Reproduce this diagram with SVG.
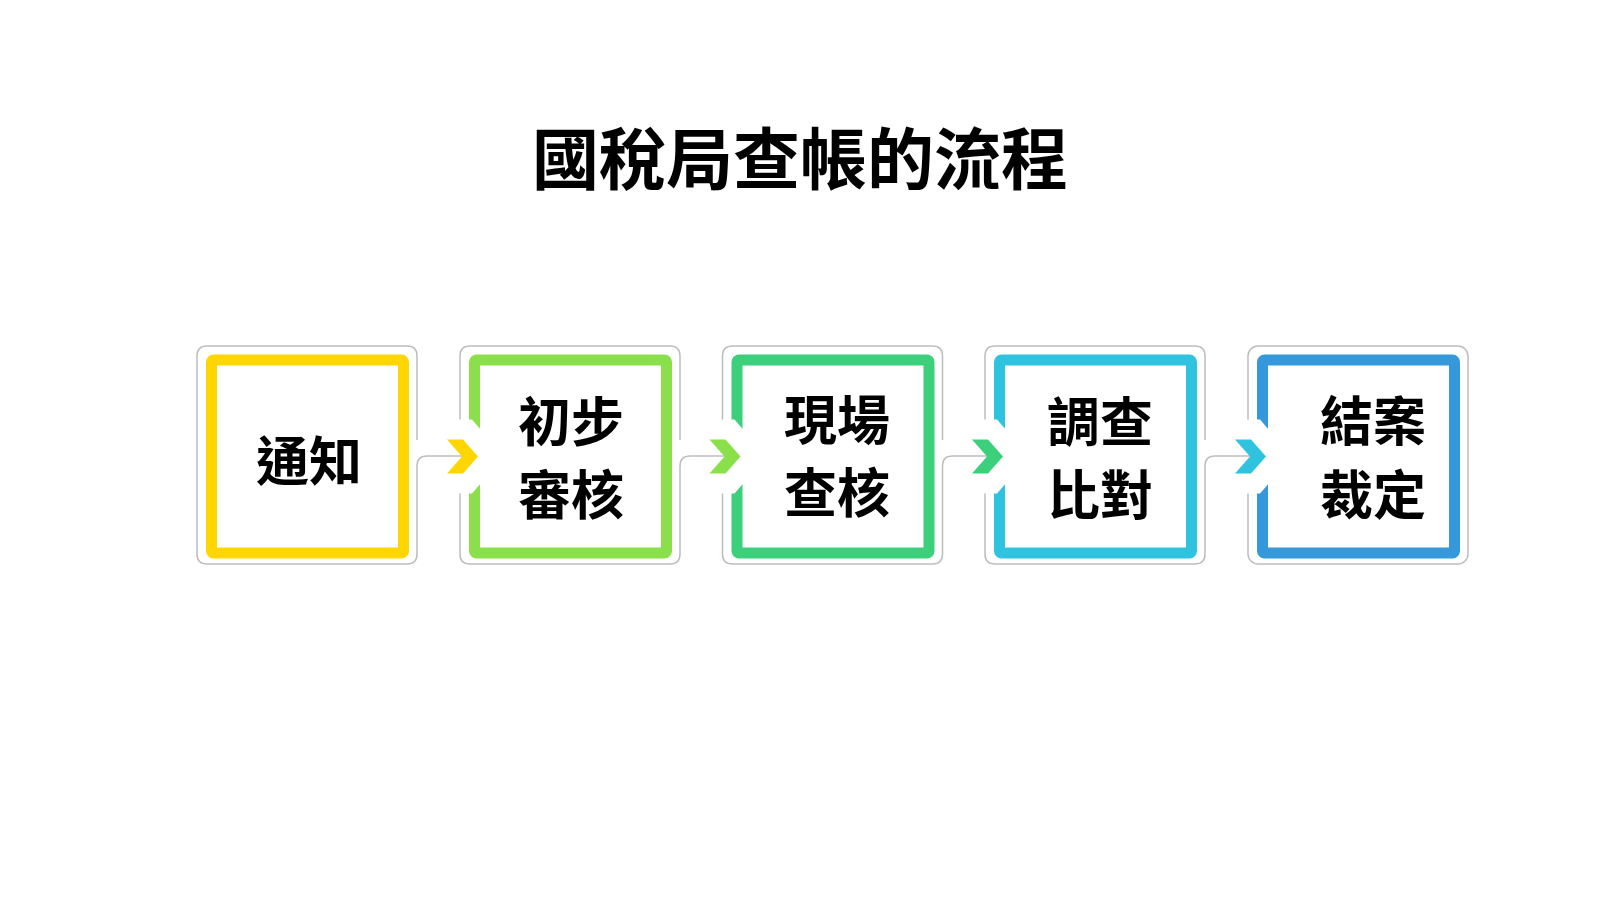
<svg xmlns="http://www.w3.org/2000/svg" width="1600" height="900" viewBox="0 0 1600 900">
<style>
  text { font-family: "Noto Sans CJK TC", "Noto Sans CJK SC", sans-serif; font-weight: 700; fill: #000; text-anchor: middle; }
  .title { font-size: 67px; }
  .lbl { font-size: 53px; }
  .frame { fill: none; stroke: #BDBDBD; stroke-width: 1.5; }
  .stripe { fill: none; stroke-width: 11; }
  .ko { fill: #fff; stroke: none; }
  .line { fill: none; stroke: #BDBDBD; stroke-width: 1.5; }
</style>
<defs>
  <polygon id="chev" points="0,0 16,0 31,17 16,34 0,34 15,17"/>
  <polygon id="knock" points="-5,-20 25,-20 57,17 25,54 -5,54"/>
</defs>
<rect width="1600" height="900" fill="#fff"/>
<text class="title" x="800" y="184">國稅局查帳的流程</text>

<g id="node1">
  <path class="frame" d="M417,440 V356 Q417,346 407,346 H207 Q197,346 197,356 V554 Q197,564 207,564 H407 Q417,564 417,554 V466"/>
  <rect class="stripe" x="211.5" y="360" width="192" height="193" rx="2" stroke="#FFD600"/>
  <text class="lbl" x="309" y="481">通知</text>
</g>
<g id="node2">
  <path class="frame" d="M680,440 V356 Q680,346 670,346 H470 Q460,346 460,356 V554 Q460,564 470,564 H670 Q680,564 680,554 V466"/>
  <rect class="stripe" x="474.5" y="360" width="192" height="193" rx="2" stroke="#8AE04B"/>
  <text class="lbl" x="571" y="442">初步</text>
  <text class="lbl" x="571" y="515">審核</text>
</g>
<g id="node3">
  <path class="frame" d="M942.5,440 V356 Q942.5,346 932.5,346 H732.5 Q722.5,346 722.5,356 V554 Q722.5,564 732.5,564 H932.5 Q942.5,564 942.5,554 V466"/>
  <rect class="stripe" x="737" y="360" width="192" height="193" rx="2" stroke="#3CCF7C"/>
  <text class="lbl" x="837" y="440">現場</text>
  <text class="lbl" x="837" y="513">查核</text>
</g>
<g id="node4">
  <path class="frame" d="M1205,440 V356 Q1205,346 1195,346 H995 Q985,346 985,356 V554 Q985,564 995,564 H1195 Q1205,564 1205,554 V466"/>
  <rect class="stripe" x="999.5" y="360" width="192" height="193" rx="2" stroke="#2FC3E0"/>
  <text class="lbl" x="1100" y="442">調查</text>
  <text class="lbl" x="1100" y="515">比對</text>
</g>
<g id="node5">
  <rect class="frame" x="1248" y="346" width="220" height="218" rx="10"/>
  <rect class="stripe" x="1262.5" y="360" width="192" height="193" rx="2" stroke="#3598DB"/>
  <text class="lbl" x="1373" y="441">結案</text>
  <text class="lbl" x="1373" y="515">裁定</text>
</g>

<g id="connectors">
  <use href="#knock" class="ko" x="447" y="439.5"/>
  <use href="#knock" class="ko" x="709.5" y="439.5"/>
  <use href="#knock" class="ko" x="972" y="439.5"/>
  <use href="#knock" class="ko" x="1235" y="439.5"/>
  <path class="line" d="M417,466 Q417,456 427,456 H462"/>
  <path class="line" d="M680,466 Q680,456 690,456 H724.5"/>
  <path class="line" d="M942.5,466 Q942.5,456 952.5,456 H987"/>
  <path class="line" d="M1205,466 Q1205,456 1215,456 H1250"/>
  <use href="#chev" x="447" y="439.5" fill="#FFD600"/>
  <use href="#chev" x="709.5" y="439.5" fill="#8AE04B"/>
  <use href="#chev" x="972" y="439.5" fill="#3CCF7C"/>
  <use href="#chev" x="1235" y="439.5" fill="#2FC3E0"/>
</g>
</svg>
